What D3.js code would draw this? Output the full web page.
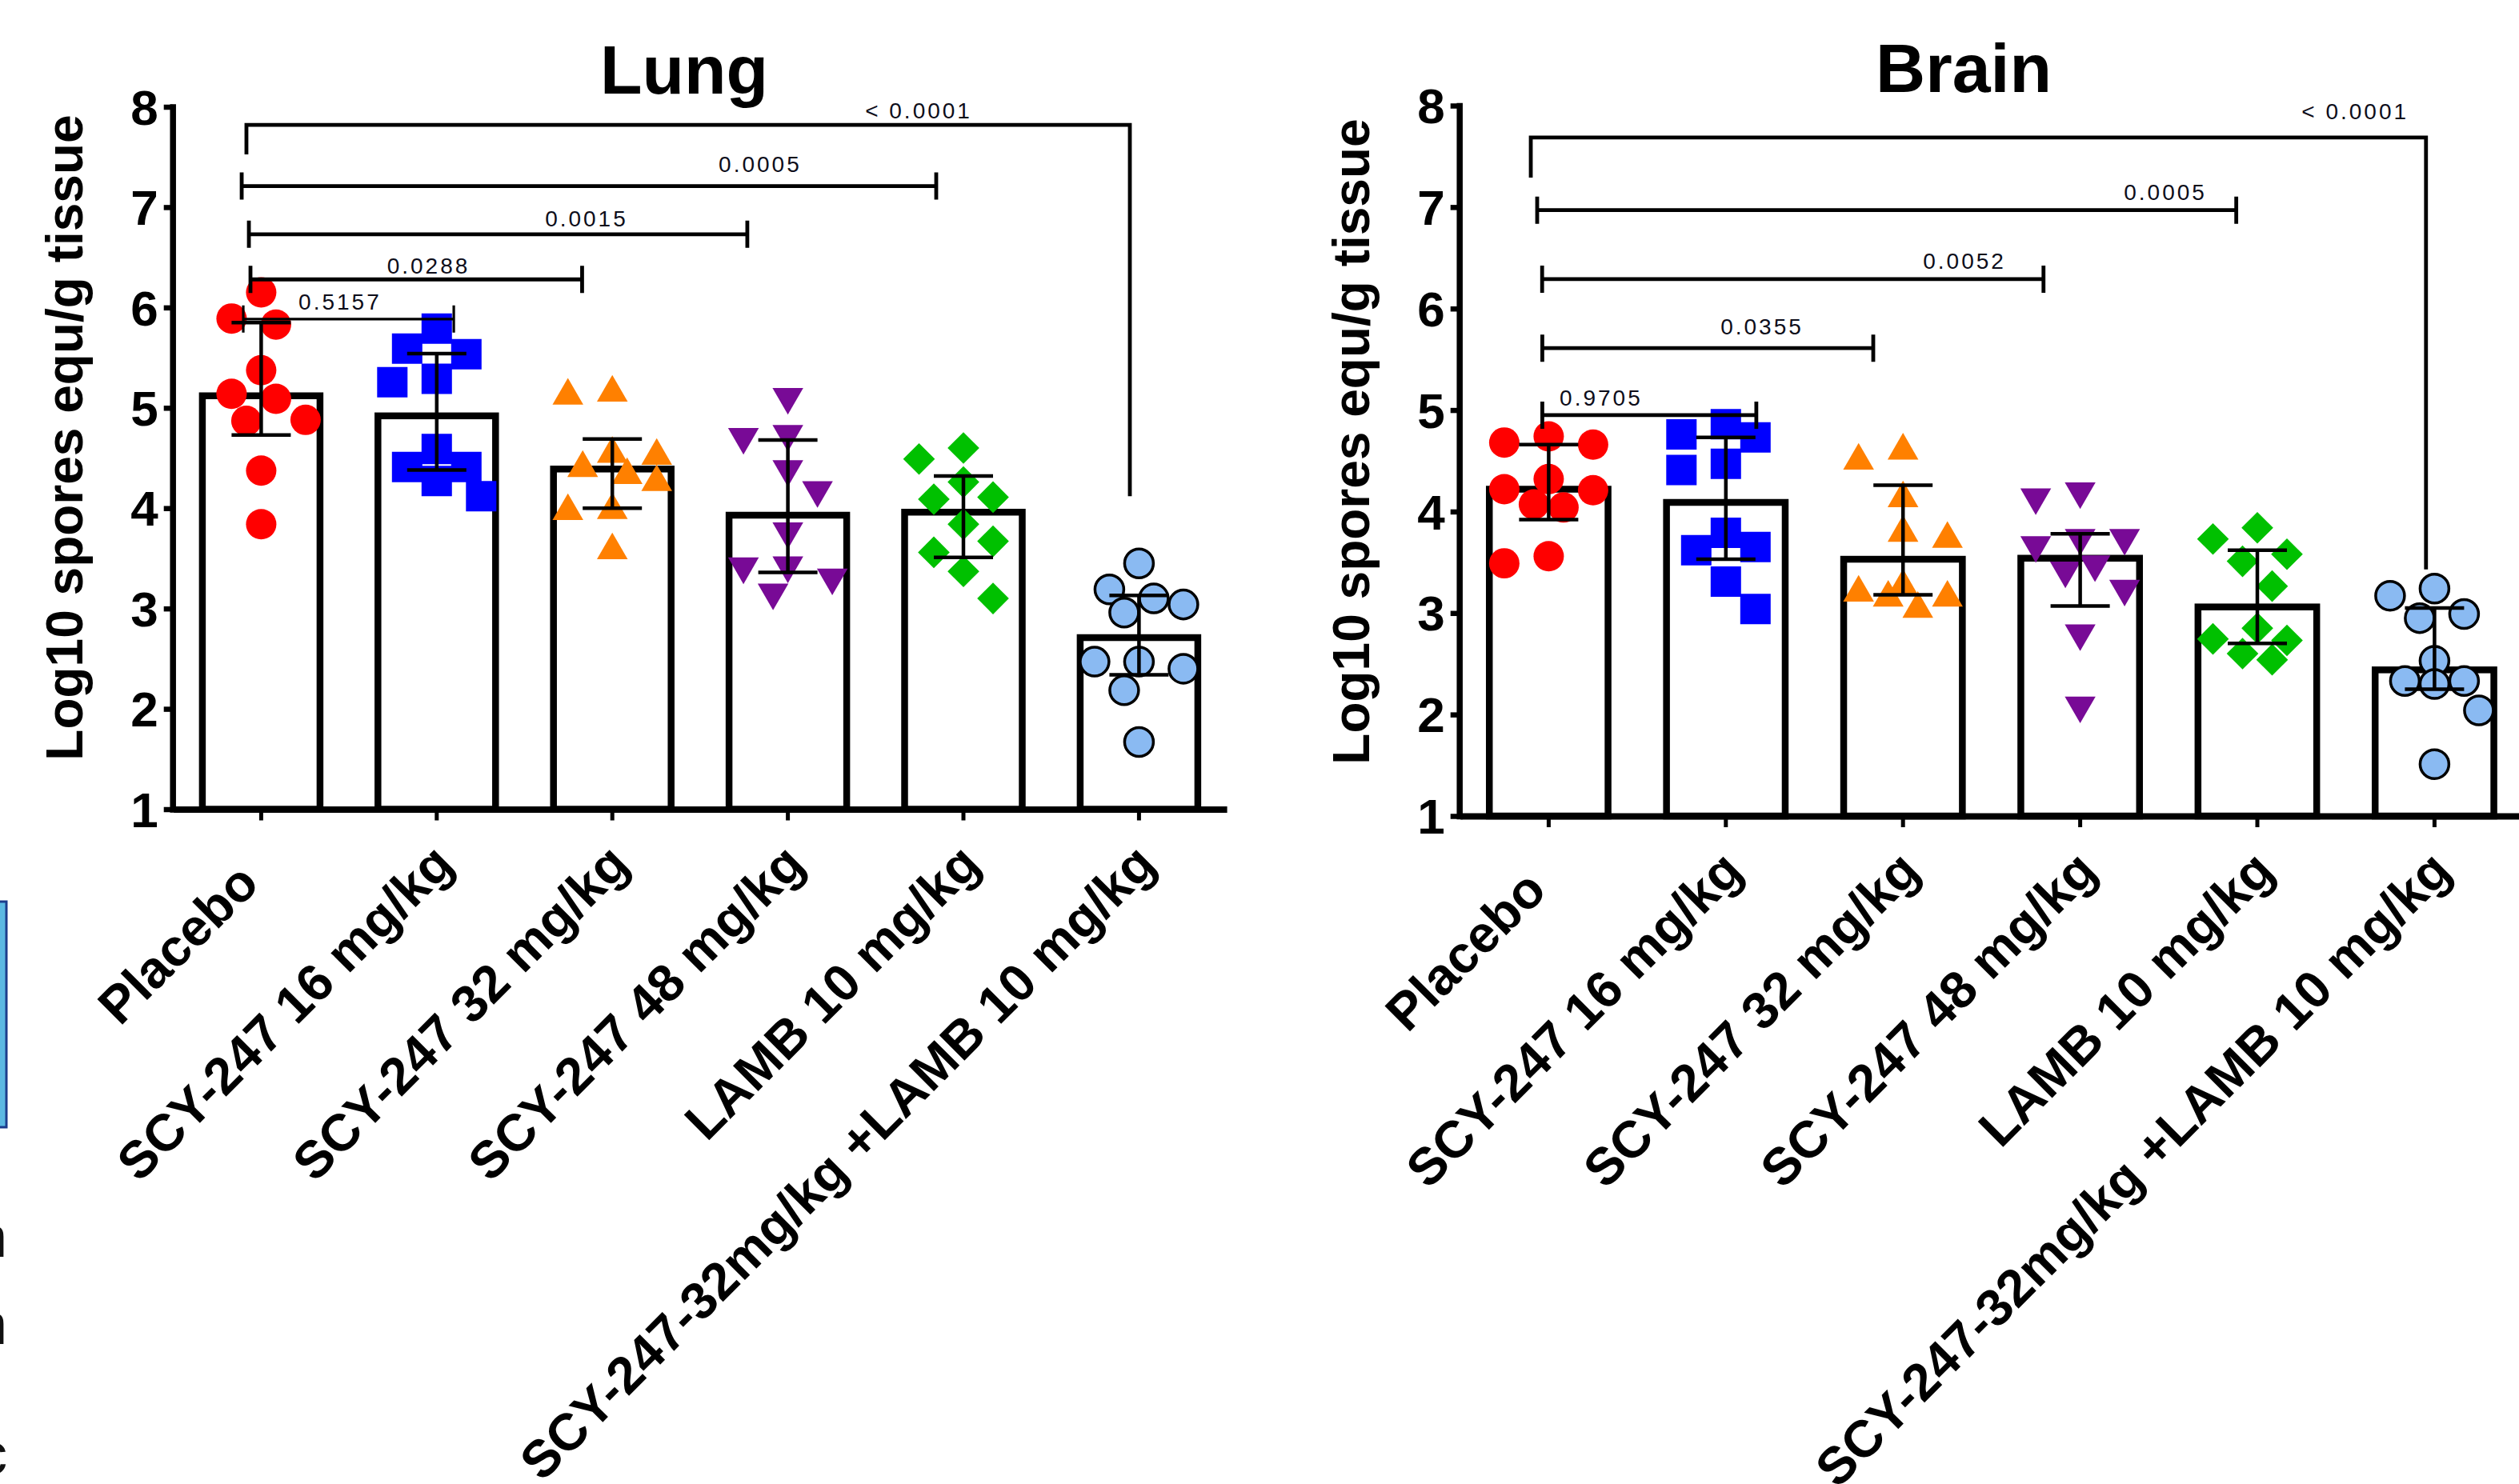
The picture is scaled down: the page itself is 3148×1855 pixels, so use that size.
<!DOCTYPE html>
<html>
<head>
<meta charset="utf-8">
<script src="https://cdn.jsdelivr.net/npm/d3@7"></script>
<style>
  html, body { margin: 0; padding: 0; background: #fff; }
  svg { display: block; }
  text { font-family: "Liberation Sans", Arial, sans-serif; }
</style>
</head>
<body>
<svg id="chart" width="3148" height="1855"></svg>
<script>
const groups = ["Placebo", "SCY-247 16 mg/kg", "SCY-247 32 mg/kg", "SCY-247 48 mg/kg",
  "LAMB 10 mg/kg", "SCY-247-32mg/kg +LAMB 10 mg/kg"];
const yTicks = [1, 2, 3, 4, 5, 6, 7, 8];
const yLabel = "Log10 spores equ/g tissue";

// Lung: individual animals, median bar, interquartile range
const lungValues = [
  [6.15, 5.83, 5.89, 5.375, 5.09, 5.14, 4.87, 4.88, 4.375, 3.84],
  [5.79, 5.535, 5.59, 5.255, 5.29, 4.59, 4.41, 4.41, 4.27, 4.12],
  [5.12, 5.15, 4.52, 4.54, 4.33, 4.40, 4.26, 3.98, 3.97, 3.58],
  [5.11, 4.74, 4.71, 4.39, 4.18, 3.77, 3.43, 3.42, 3.31, 3.16],
  [4.60, 4.49, 4.26, 4.09, 4.11, 3.84, 3.67, 3.56, 3.37, 3.10],
  [3.45, 3.10, 3.19, 2.96, 3.04, 2.47, 2.40, 2.47, 2.185, 1.67]
];
const lungMedian = [5.12, 4.92, 4.39, 3.93, 3.96, 2.71];
const lungQ1 = [4.73, 4.38, 4.00, 3.36, 3.51, 2.34];
const lungQ3 = [5.85, 5.54, 4.69, 4.68, 4.32, 3.13];

// Brain
const brainValues = [
  [4.74, 4.66, 4.68, 4.22, 4.32, 4.07, 4.04, 4.21, 3.49, 3.56],
  [4.86, 4.73, 4.76, 4.41, 4.47, 3.79, 3.65, 3.62, 3.31, 3.04],
  [4.50, 4.60, 4.13, 3.79, 3.73, 3.26, 3.20, 3.15, 3.15, 3.04],
  [4.14, 4.20, 3.74, 3.74, 3.67, 3.48, 3.42, 3.24, 2.80, 2.09],
  [3.84, 3.73, 3.58, 3.51, 3.265, 2.85, 2.745, 2.73, 2.60, 2.54],
  [3.24, 3.17, 2.99, 2.95, 2.53, 2.33, 2.30, 2.33, 2.04, 1.51]
];
const brainMedian = [4.22, 4.09, 3.53, 3.54, 3.06, 2.44];
const brainQ1 = [3.92, 3.53, 3.18, 3.07, 2.70, 2.25];
const brainQ3 = [4.66, 4.73, 4.26, 3.78, 3.62, 3.05];

// p-value brackets: x in group units (0 = Placebo), y in log10 units
const lungBrackets = [
  { p: "0.5157", x1: -0.102, x2: 1.097, y: 5.885, tx: 0.449, ty: 5.98 },
  { p: "0.0288", x1: -0.061, x2: 1.828, y: 6.28, tx: 0.953, ty: 6.34 },
  { p: "0.0015", x1: -0.070, x2: 2.769, y: 6.73, tx: 1.853, ty: 6.81 },
  { p: "0.0005", x1: -0.111, x2: 3.845, y: 7.21, tx: 2.842, ty: 7.354 },
  { p: "< 0.0001", x1: -0.084, x2: 4.948, y: 7.82, tx: 3.745, ty: 7.884, legL: 7.526, legR: 4.12 }
];
const brainBrackets = [
  { p: "0.9705", x1: -0.036, x2: 1.172, y: 4.95, tx: 0.296, ty: 5.04 },
  { p: "0.0355", x1: -0.036, x2: 1.832, y: 5.61, tx: 1.204, ty: 5.746 },
  { p: "0.0052", x1: -0.037, x2: 2.793, y: 6.29, tx: 2.347, ty: 6.39 },
  { p: "0.0005", x1: -0.065, x2: 3.881, y: 6.97, tx: 3.481, ty: 7.07 },
  { p: "< 0.0001", x1: -0.101, x2: 4.952, y: 7.685, tx: 4.552, ty: 7.868, legL: 7.29, legR: 3.43 }
];

const colors = ["#FF0000", "#0000FF", "#FF8000", "#780A96", "#00C000", "#8ABAF2"];
const shapes = ["circle", "square", "triangle", "triangleDown", "diamond", "ring"];

const svg = d3.select("#chart");

const symbolPath = {
  circle: d3.symbol(d3.symbolCircle, 1134)(),
  ring: d3.symbol(d3.symbolCircle, 1018)(),
  square: d3.symbol(d3.symbolSquare, 1444)(),
  triangle: d3.symbol(d3.symbolTriangle, 640)(),
  triangleDown: d3.symbol(d3.symbolTriangle, 640)(),
  diamond: d3.symbol(d3.symbolSquare, 784)()
};
const symbolRot = { triangleDown: " rotate(180)", diamond: " rotate(45)" };

// scatter spreading like Prism: fixed slots either side of the centre,
// first free slot nearest the middle, else the least crowded one
function swarm(vals, y, diam, slot, maxSlots) {
  const order = vals.map((v, i) => i).sort((a, b) => vals[b] - vals[a]);
  const slots = [0];
  for (let k = 1; k <= maxSlots; k++) slots.push(k * slot, -k * slot);
  const placed = [];
  const out = new Array(vals.length);
  order.forEach(i => {
    const py = y(vals[i]);
    const left = placed.filter(p => p.x < -1).length;
    const right = placed.filter(p => p.x > 1).length;
    const cands = slots.slice().sort((a, b) =>
      (Math.abs(a) - Math.abs(b)) || (left > right ? b - a : a - b));
    const gap = c => d3.min(placed, p => Math.hypot(p.x - c, p.y - py)) ?? Infinity;
    let best = cands.find(c => gap(c) >= diam);
    if (best === undefined) best = d3.greatest(cands, c => gap(c));
    out[i] = best;
    placed.push({ x: best, y: py });
  });
  return out;
}

function drawPanel(opt) {
  const g = svg.append("g");
  const x = d3.scaleBand().domain(groups).range(opt.xRange);
  const y = d3.scaleLinear().domain([yTicks[0], yTicks[yTicks.length - 1]]).range(opt.yRange);
  const step = x.step();
  const cx = u => x(groups[0]) + step / 2 + u * step;
  const barW = step * 0.67;
  const axisX = opt.xRange[0] - 1;

  // bars (median)
  g.append("g").selectAll("rect")
    .data(opt.medians)
    .join("rect")
    .attr("x", (d, i) => cx(i) - barW / 2)
    .attr("y", d => y(d))
    .attr("width", barW)
    .attr("height", d => y(yTicks[0]) - y(d))
    .attr("fill", "#fff")
    .attr("stroke", "#000")
    .attr("stroke-width", 8.5);

  // x axis
  const xAxis = g.append("g")
    .attr("transform", `translate(0,${y(yTicks[0])})`)
    .call(d3.axisBottom(x).tickSize(14).tickSizeOuter(0));
  xAxis.select(".domain").attr("stroke", "#000").attr("stroke-width", 8);
  xAxis.selectAll(".tick line").attr("stroke", "#000").attr("stroke-width", 5);
  xAxis.selectAll(".tick text")
    .attr("x", 0).attr("y", 0).attr("dy", null)
    .attr("dx", (d, i) => i === 0 ? -34 : null)
    .attr("text-anchor", "end")
    .attr("transform", "translate(24,72) rotate(-45)")
    .attr("font-size", 65)
    .attr("font-weight", "bold")
    .attr("font-family", "Liberation Sans, Arial, sans-serif")
    .attr("fill", "#000");

  // y axis
  const yAxis = g.append("g")
    .attr("transform", `translate(${axisX},0)`)
    .call(d3.axisLeft(y).tickValues(yTicks).tickFormat(d3.format("d")).tickSize(11).tickPadding(7).tickSizeOuter(0));
  yAxis.select(".domain").attr("stroke", "#000").attr("stroke-width", 7.5).attr("stroke-linecap", "square");
  yAxis.selectAll(".tick line").attr("stroke", "#000").attr("stroke-width", 6.5);
  yAxis.selectAll(".tick text")
    .attr("dy", "0.35em")
    .attr("font-size", 62)
    .attr("font-weight", "bold")
    .attr("font-family", "Liberation Sans, Arial, sans-serif")
    .attr("fill", "#000");

  // individual points
  opt.values.forEach((vals, gi) => {
    const offs = swarm(vals, y, 40, 18.5, 3);
    const shape = shapes[gi];
    g.append("g").selectAll("path")
      .data(vals)
      .join("path")
      .attr("d", symbolPath[shape])
      .attr("transform", (d, k) => `translate(${cx(gi) + offs[k]},${y(d)})` + (symbolRot[shape] || ""))
      .attr("fill", colors[gi])
      .attr("stroke", shape === "ring" ? "#000" : "none")
      .attr("stroke-width", 3.5);
  });

  // interquartile range error bars
  const eb = g.append("g").attr("stroke", "#000").attr("stroke-width", 4.5).attr("fill", "none");
  opt.medians.forEach((m, i) => {
    const c = cx(i);
    eb.append("path").attr("d",
      `M${c},${y(opt.q1[i])}V${y(opt.q3[i])}` +
      `M${c - 37},${y(opt.q3[i])}H${c + 37}` +
      `M${c - 37},${y(opt.q1[i])}H${c + 37}`);
  });

  // significance brackets
  const br = g.append("g");
  opt.brackets.forEach(b => {
    const x1 = cx(b.x1), x2 = cx(b.x2), yy = y(b.y);
    let d;
    if (b.legL !== undefined) {
      d = `M${x1},${y(b.legL)}V${yy}H${x2}V${y(b.legR)}`;
    } else {
      d = `M${x1},${yy - 17}V${yy + 17}M${x1},${yy}H${x2}M${x2},${yy - 17}V${yy + 17}`;
    }
    br.append("path")
      .attr("d", d)
      .attr("fill", "none")
      .attr("stroke", "#000")
      .attr("stroke-width", b.p === "0.5157" ? 3.2 : 4.8);
    br.append("text")
      .attr("x", cx(b.tx))
      .attr("y", y(b.ty))
      .attr("text-anchor", "middle")
      .attr("font-size", 28)
      .attr("letter-spacing", 3)
      .attr("fill", "#0d0d1a")
      .text(b.p);
  });

  // title and axis label
  g.append("text")
    .attr("x", opt.titleX).attr("y", opt.titleY)
    .attr("text-anchor", "middle")
    .attr("font-size", 86)
    .attr("font-weight", "bold")
    .text(opt.title);
  g.append("text")
    .attr("transform", `translate(${axisX - 113},${opt.labelY}) rotate(-90)`)
    .attr("text-anchor", "middle")
    .attr("font-size", 64)
    .attr("font-weight", "bold")
    .text(yLabel);
}

drawPanel({
  title: "Lung", titleX: 855, titleY: 117,
  values: lungValues, medians: lungMedian, q1: lungQ1, q3: lungQ3, brackets: lungBrackets,
  xRange: [216.7, 1533.1], yRange: [1011.5, 133.5], labelY: 547
});
drawPanel({
  title: "Brain", titleX: 2454, titleY: 115,
  values: brainValues, medians: brainMedian, q1: brainQ1, q3: brainQ3, brackets: brainBrackets,
  xRange: [1824.7, 3153.1], yRange: [1020, 132], labelY: 552
});

// bits of the neighbouring figure cut off at the left border
svg.append("rect")
  .attr("x", -20).attr("y", 1127).attr("width", 28).attr("height", 282)
  .attr("fill", "#5BB8E2").attr("stroke", "#1B3C8C").attr("stroke-width", 3);
svg.append("g").selectAll("text")
  .data([["n", 1571], ["n", 1680], ["c", 1842]])
  .join("text")
  .attr("x", 9).attr("y", d => d[1])
  .attr("text-anchor", "end")
  .attr("font-size", 72)
  .attr("fill", "#111")
  .text(d => d[0]);
</script>
</body>
</html>
